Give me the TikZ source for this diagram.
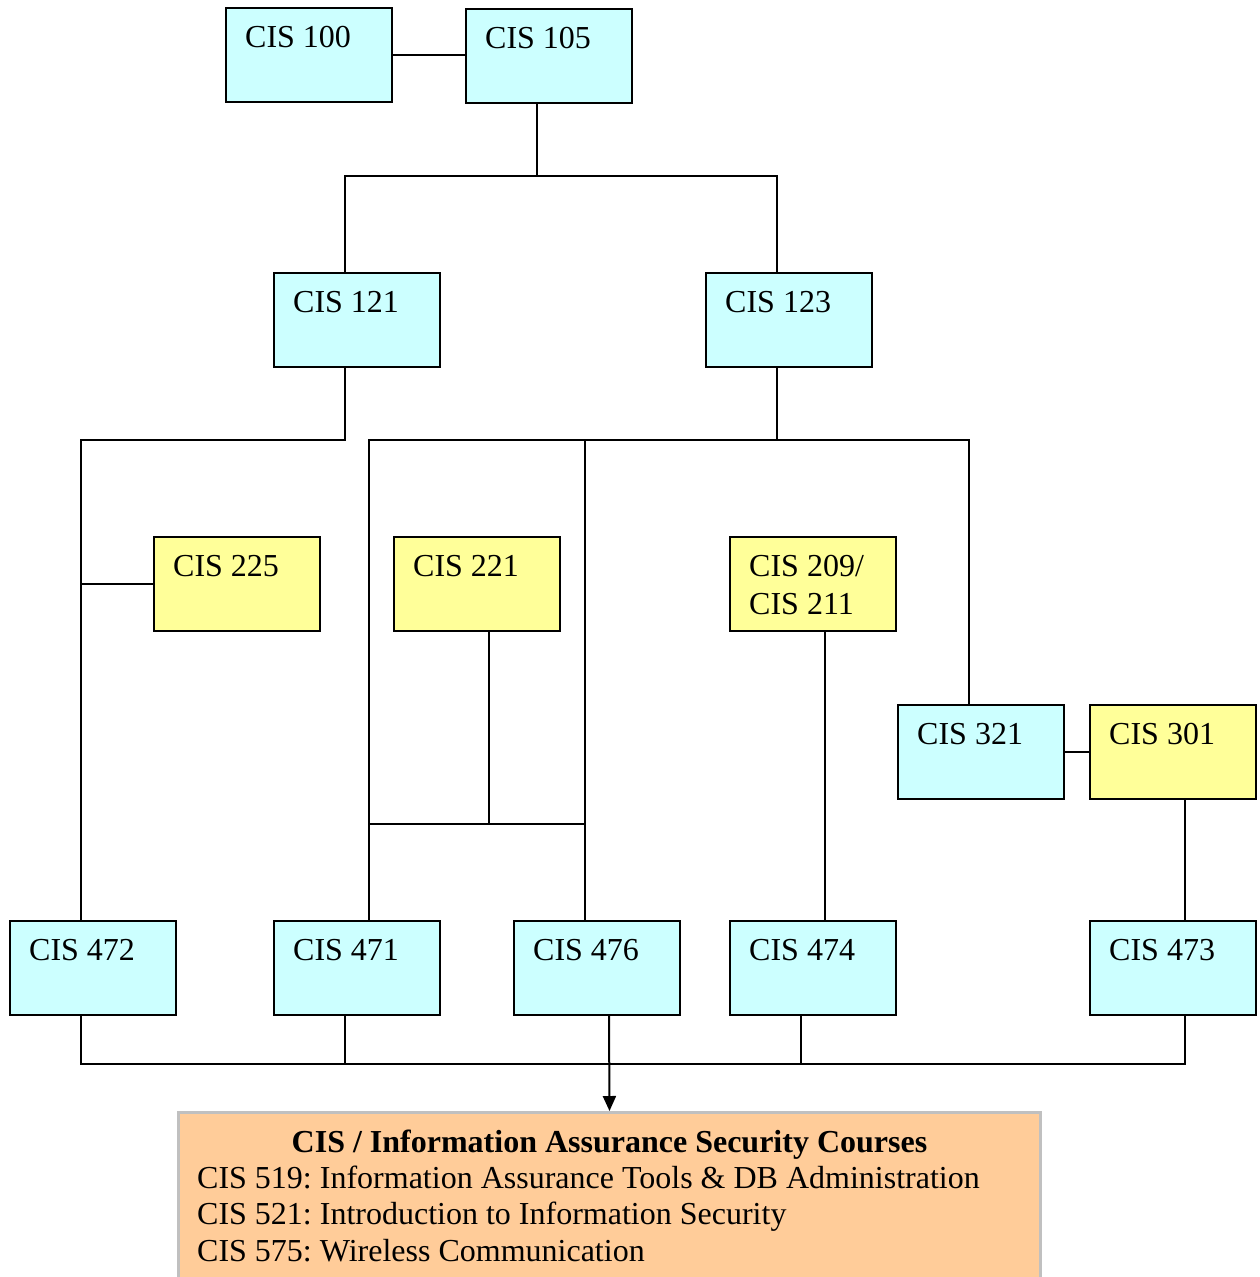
\documentclass[tikz,border=0pt]{standalone}
\usepackage{fontspec}
\setmainfont{Liberation Serif}
\usetikzlibrary{calc,arrows.meta}
\definecolor{cy}{HTML}{CCFFFF}
\definecolor{ye}{HTML}{FFFF99}
\definecolor{orng}{HTML}{FFCC99}
\definecolor{edgegray}{HTML}{C0C0C0}
\frenchspacing
\begin{document}
\begin{tikzpicture}[x=1pt,y=-1pt,
  box/.style={draw, line width=2pt, minimum width=166pt, minimum height=94pt, inner sep=0pt, anchor=north west},
  cbox/.style={box, fill=cy},
  ybox/.style={box, fill=ye},
  lbl/.style={anchor=base west, inner sep=0pt, font=\fontsize{32}{38}\selectfont},
  conn/.style={line width=2pt}]
\path[use as bounding box] (0,0) rectangle (1260,1277);

% boxes
\node[cbox] (c100) at (225,7) {};
\node[cbox] (c105) at (465,8) {};
\node[cbox] (c121) at (273,272) {};
\node[cbox] (c123) at (705,272) {};
\node[ybox] (c225) at (153,536) {};
\node[ybox] (c221) at (393,536) {};
\node[ybox] (c209) at (729,536) {};
\node[cbox] (c321) at (897,704) {};
\node[ybox] (c301) at (1089,704) {};
\node[cbox] (c472) at (9,920) {};
\node[cbox] (c471) at (273,920) {};
\node[cbox] (c476) at (513,920) {};
\node[cbox] (c474) at (729,920) {};
\node[cbox] (c473) at (1089,920) {};

% labels
\node[lbl] (l100) at ($(c100.north west)+(20,40)$) {CIS 100};
\node[lbl] (l105) at ($(c105.north west)+(20,40)$) {CIS 105};
\node[lbl] (l121) at ($(c121.north west)+(20,40)$) {CIS 121};
\node[lbl] (l123) at ($(c123.north west)+(20,40)$) {CIS 123};
\node[lbl] (l225) at ($(c225.north west)+(20,40)$) {CIS 225};
\node[lbl] (l221) at ($(c221.north west)+(20,40)$) {CIS 221};
\node[lbl] (l209) at ($(c209.north west)+(20,40)$) {CIS 209/};
\node[lbl] (l211) at ($(c209.north west)+(20,78)$) {CIS 211};
\node[lbl] (l321) at ($(c321.north west)+(20,40)$) {CIS 321};
\node[lbl] (l301) at ($(c301.north west)+(20,40)$) {CIS 301};
\node[lbl] (l472) at ($(c472.north west)+(20,40)$) {CIS 472};
\node[lbl] (l471) at ($(c471.north west)+(20,40)$) {CIS 471};
\node[lbl] (l476) at ($(c476.north west)+(20,40)$) {CIS 476};
\node[lbl] (l474) at ($(c474.north west)+(20,40)$) {CIS 474};
\node[lbl] (l473) at ($(c473.north west)+(20,40)$) {CIS 473};

% final box
\node[fill=orng, draw=edgegray, line width=3pt, minimum width=862pt, minimum height=172pt, inner sep=0pt, anchor=north west] (fin) at (177,1111) {};
\node[anchor=base, inner sep=0pt, font=\fontsize{32}{38}\selectfont\bfseries] (ttl) at ($(fin.north)+(0,41)$) {CIS / Information Assurance Security Courses};
\node[lbl] (f519) at ($(fin.north west)+(20,77)$) {CIS 519: Information Assurance Tools \& DB Administration};
\node[lbl] (f521) at ($(fin.north west)+(20,113)$) {CIS 521: Introduction to Information Security};
\node[lbl] (f575) at ($(fin.north west)+(20,150)$) {CIS 575: Wireless Communication};

% connector points
\coordinate (r1) at (0,176);
\coordinate (r2) at (0,440);
\coordinate (r3) at (0,824);
\coordinate (r4) at (0,1064);
\coordinate (b105) at ([xshift=-12pt]c105.south);
\coordinate (t121) at ([xshift=-12pt]c121.north);
\coordinate (t123) at ([xshift=-12pt]c123.north);
\coordinate (b121) at ([xshift=-12pt]c121.south);
\coordinate (b123) at ([xshift=-12pt]c123.south);
\coordinate (t472) at ([xshift=-12pt]c472.north);
\coordinate (t471) at ([xshift=12pt]c471.north);
\coordinate (t476) at ([xshift=-12pt]c476.north);
\coordinate (t321) at ([xshift=-12pt]c321.north);
\coordinate (b221) at ([xshift=12pt]c221.south);
\coordinate (b209) at ([xshift=12pt]c209.south);
\coordinate (t474) at ([xshift=12pt]c474.north);
\coordinate (b301) at ([xshift=12pt]c301.south);
\coordinate (t473) at ([xshift=12pt]c473.north);
\coordinate (b472) at ([xshift=-12pt]c472.south);
\coordinate (b471) at ([xshift=-12pt]c471.south);
\coordinate (b476) at ([xshift=12pt]c476.south);
\coordinate (b474) at ([xshift=-12pt]c474.south);
\coordinate (b473) at ([xshift=12pt]c473.south);

% connectors
\draw[conn] (c100.east) -- (c100.east -| c105.west);
\draw[conn] (b105) -- (b105 |- r1);
\draw[conn] (t121) -- (t121 |- r1) -- (t123 |- r1) -- (t123);
\draw[conn] (b121) -- (b121 |- r2) -- (t472 |- r2) -- (t472);
\draw[conn] (c225.west) -- (c225.west -| t472);
\draw[conn] (b123) -- (b123 |- r2);
\draw[conn] (t471) -- (t471 |- r2) -- (t321 |- r2) -- (t321);
\draw[conn] (t476) -- (t476 |- r2);
\draw[conn] (b221) -- (b221 |- r3);
\draw[conn] (t471 |- r3) -- (t476 |- r3);
\draw[conn] (b209) -- (t474);
\draw[conn] (c321.east) -- (c321.east -| c301.west);
\draw[conn] (b301) -- (t473);
\draw[conn] (b472) -- (b472 |- r4) -- (b473 |- r4) -- (b473);
\draw[conn] (b471) -- (b471 |- r4);
\draw[conn] (b474) -- (b474 |- r4);
\draw[conn, -{Triangle[length=15pt, width=13pt]}] (b476) -- (fin.north);
\end{tikzpicture}
\end{document}
